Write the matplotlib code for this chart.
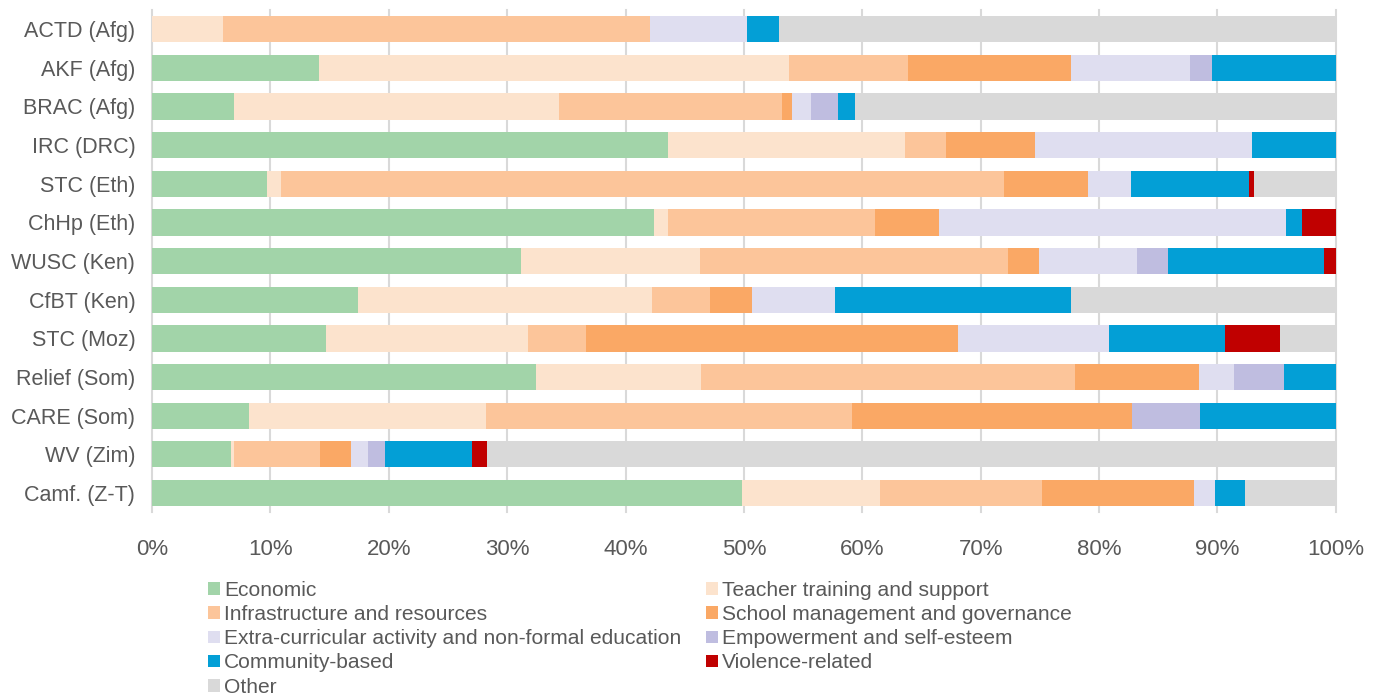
import matplotlib
matplotlib.use("Agg")
import matplotlib.pyplot as plt
from matplotlib.patches import Patch
import numpy as np

plt.rcParams['font.family'] = ['Liberation Sans', 'DejaVu Sans']

categories = ["ACTD (Afg)", "AKF (Afg)", "BRAC (Afg)", "IRC (DRC)", "STC (Eth)", "ChHp (Eth)",
              "WUSC (Ken)", "CfBT (Ken)", "STC (Moz)", "Relief (Som)", "CARE (Som)", "WV (Zim)", "Camf. (Z-T)"]

series_names = ["Economic", "Teacher training and support", "Infrastructure and resources",
                "School management and governance", "Extra-curricular activity and non-formal education",
                "Empowerment and self-esteem", "Community-based", "Violence-related", "Other"]

economic   = [0.0, 14.1, 6.9, 43.6, 9.7, 42.4, 31.2, 17.4, 14.7, 32.4, 8.2, 6.7, 49.8]
teacher    = [6.0, 39.7, 27.5, 20.0, 1.2, 1.2, 15.1, 24.8, 17.1, 14.0, 20.0, 0.2, 11.7]
infra      = [36.1, 10.1, 18.8, 3.5, 61.1, 17.5, 26.0, 4.9, 4.9, 31.6, 30.9, 7.3, 13.7]
school     = [0.0, 13.7, 0.9, 7.5, 7.1, 5.4, 2.6, 3.6, 31.4, 10.4, 23.7, 2.6, 12.8]
extra      = [8.2, 10.1, 1.6, 18.3, 3.6, 29.3, 8.3, 7.0, 12.7, 3.0, 0.0, 1.4, 1.8]
empower    = [0.0, 1.8, 2.25, 0.0, 0.0, 0.0, 2.6, 0.0, 0.0, 4.2, 5.7, 1.5, 0.0]
community  = [2.7, 10.5, 1.45, 7.1, 10.0, 1.3, 13.2, 19.9, 9.8, 4.4, 11.5, 7.3, 2.5]
violence   = [0.0, 0.0, 0.0, 0.0, 0.4, 2.9, 1.0, 0.0, 4.7, 0.0, 0.0, 1.3, 0.0]
other      = [47.0, 0.0, 40.6, 0.0, 6.9, 0.0, 0.0, 22.4, 4.7, 0.0, 0.0, 71.6, 7.7]

colors = ["#A2D4A9", "#FCE3CD", "#FCC59A", "#FAA865", "#DFDEF0", "#BFBDE0", "#039FD6", "#C00000", "#D9D9D9"]

data = np.array([economic, teacher, infra, school, extra, empower, community, violence, other], dtype=float)
data = data / data.sum(axis=0) * 100.0

fig = plt.figure(figsize=(13.83, 6.98), dpi=100)
ax = fig.add_axes([0.1099, 0.266, 0.856, 0.72])

y = np.arange(len(categories))
left = np.zeros(len(categories))
for i, name in enumerate(series_names):
    ax.barh(y, data[i], left=left, height=0.68, color=colors[i], edgecolor='none', zorder=2)
    left += data[i]

ax.set_xlim(0, 100)
ax.set_ylim(len(categories) - 0.5, -0.5)
ax.set_yticks(y)
ax.set_yticklabels(categories)
ax.set_xticks(np.arange(0, 101, 10))
ax.set_xticklabels([f"{v}%" for v in range(0, 101, 10)])
ax.tick_params(axis='both', length=0, labelsize=15.5, labelcolor='#595959')
ax.tick_params(axis='x', pad=19, labelsize=16)
ax.tick_params(axis='y', pad=12)
for s in ax.spines.values():
    s.set_visible(False)
for v in range(0, 101, 10):
    ax.axvline(v, color='#D9D9D9', linewidth=1.5, zorder=1, clip_on=False)

order = [0, 2, 4, 6, 8, 1, 3, 5, 7]
handles = [Patch(facecolor=colors[i], edgecolor='none', label=series_names[i]) for i in order]
leg = fig.legend(handles=handles, ncol=2, loc='upper left', bbox_to_anchor=(0.143, 0.183),
                 frameon=False, fontsize=15.1, handlelength=0.55, handleheight=0.55,
                 handletextpad=0.2, labelspacing=0.25, columnspacing=1.2, borderpad=0)
for t in leg.get_texts():
    t.set_color('#595959')

fig.savefig("out.png", dpi=100)
